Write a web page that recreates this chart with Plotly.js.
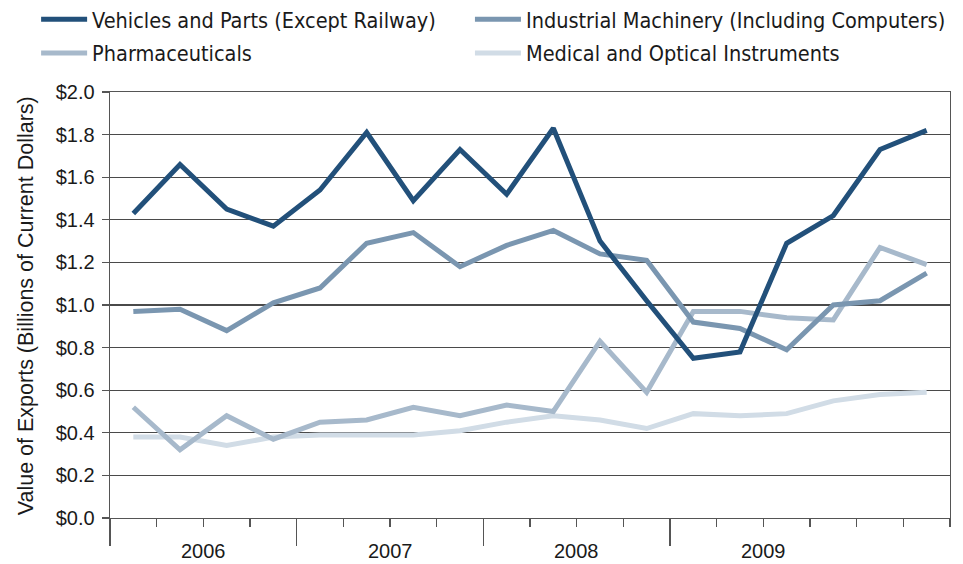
<!DOCTYPE html>
<html>
<head>
<meta charset="utf-8">
<script src="https://cdn.plot.ly/plotly-3.0.1.min.js"></script>
<style>html,body{margin:0;padding:0;background:#fff;}#chart{width:963px;height:564px;}</style>
</head>
<body>
<div id="chart"></div>
<script>
// Quarterly periods (18 quarters)
const quarters = ['2006 Q1','2006 Q2','2006 Q3','2006 Q4','2007 Q1','2007 Q2','2007 Q3','2007 Q4',
  '2008 Q1','2008 Q2','2008 Q3','2008 Q4','2009 Q1','2009 Q2','2009 Q3','2009 Q4','2010 Q1','2010 Q2'];
const years = ['2006','2007','2008','2009'];
const yTickVals = [0,0.2,0.4,0.6,0.8,1.0,1.2,1.4,1.6,1.8,2.0];
const yTickText = ['$0.0','$0.2','$0.4','$0.6','$0.8','$1.0','$1.2','$1.4','$1.6','$1.8','$2.0'];
const yTitle = 'Value of Exports (Billions of Current Dollars)';

// Values of exports, billions of current dollars
const vehicles = [1.43,1.66,1.45,1.37,1.54,1.81,1.49,1.73,1.52,1.83,1.30,1.02,0.75,0.78,1.29,1.42,1.73,1.82];
const industrial = [0.97,0.98,0.88,1.01,1.08,1.29,1.34,1.18,1.28,1.35,1.24,1.21,0.92,0.89,0.79,1.00,1.02,1.15];
const pharma = [0.52,0.32,0.48,0.37,0.45,0.46,0.52,0.48,0.53,0.50,0.83,0.59,0.97,0.97,0.94,0.93,1.27,1.19];
const medical = [0.38,0.38,0.34,0.38,0.39,0.39,0.39,0.41,0.45,0.48,0.46,0.42,0.49,0.48,0.49,0.55,0.58,0.59];

const xIdx = quarters.map((q, i) => i);
const groupSize = 4;
const boundaries = years.map((y, i) => i * groupSize - 0.5);
const yearCenters = years.map((y, i) => i * groupSize + (groupSize - 1) / 2);

function mk(name, y, color, legend) {
  return {x: xIdx, y: y, name: name, type: 'scatter', mode: 'lines',
    line: {color: color, width: 5}, legend: legend, hoverinfo: 'skip'};
}
const traces = [
  mk('Medical and Optical Instruments', medical, '#d1dce6', 'legend4'),
  mk('Pharmaceuticals', pharma, '#a7b9cb', 'legend3'),
  mk('Industrial Machinery (Including Computers)', industrial, '#7a96b0', 'legend2'),
  mk('Vehicles and Parts (Except Railway)', vehicles, '#22507a', 'legend')
];

const legFont = {family: '"Liberation Sans Narrow", "DejaVu Sans Condensed", Arial, sans-serif', size: 21.5, color: '#1a1a1a'};
function leg(x, y) {
  return {xref: 'container', yref: 'container', x: x, y: y, xanchor: 'left', yanchor: 'middle',
    font: legFont, bgcolor: 'rgba(0,0,0,0)', borderwidth: 0, itemwidth: 46};
}

const axisColor = '#555555';
const layout = {
  width: 963, height: 564,
  margin: {l: 110, r: 13, t: 92, b: 46, autoexpand: false},
  paper_bgcolor: '#ffffff', plot_bgcolor: '#ffffff',
  font: {family: 'Liberation Sans, Arial, sans-serif', size: 19, color: '#1a1a1a'},
  showlegend: true,
  legend: leg(0.0375, 0.966),
  legend2: leg(0.488, 0.966),
  legend3: leg(0.0375, 0.906),
  legend4: leg(0.488, 0.906),
  xaxis: {
    range: [-0.5, quarters.length - 0.5], showgrid: false, zeroline: false,
    showline: true, linecolor: axisColor, linewidth: 1.3, mirror: true,
    tickmode: 'array', tickvals: boundaries, ticks: 'outside', ticklen: 27,
    tickcolor: axisColor, tickwidth: 1.3, showticklabels: false,
    minor: {tick0: -0.5, dtick: 1, ticks: 'outside', ticklen: 8, tickcolor: axisColor, tickwidth: 1.3, showgrid: false}
  },
  yaxis: {
    range: [0, 2], tickmode: 'array', tickvals: yTickVals, ticktext: yTickText,
    ticks: 'outside', ticklen: 7, tickcolor: axisColor, tickwidth: 1.3, ticklabelstandoff: 3,
    showgrid: true, gridcolor: '#4a4a4a', gridwidth: 1.2, zeroline: false,
    showline: true, linecolor: axisColor, linewidth: 1.3, mirror: true,
    tickfont: {size: 20, color: '#1a1a1a'},
    automargin: false
  },
  annotations: years.map((yr, i) => ({
    text: yr, x: yearCenters[i], xref: 'x', y: -33 / 426, yref: 'paper',
    xanchor: 'center', yanchor: 'middle', showarrow: false,
    font: {size: 20, color: '#1a1a1a'}
  })).concat([{
    text: yTitle, xref: 'paper', x: -84 / 840, xanchor: 'center', yref: 'paper', y: 0.497, yanchor: 'middle',
    textangle: -90, showarrow: false, font: {size: 21.5, color: '#1a1a1a'}
  }])
};

Plotly.newPlot('chart', traces, layout, {displayModeBar: false, staticPlot: true});
</script>
</body>
</html>
